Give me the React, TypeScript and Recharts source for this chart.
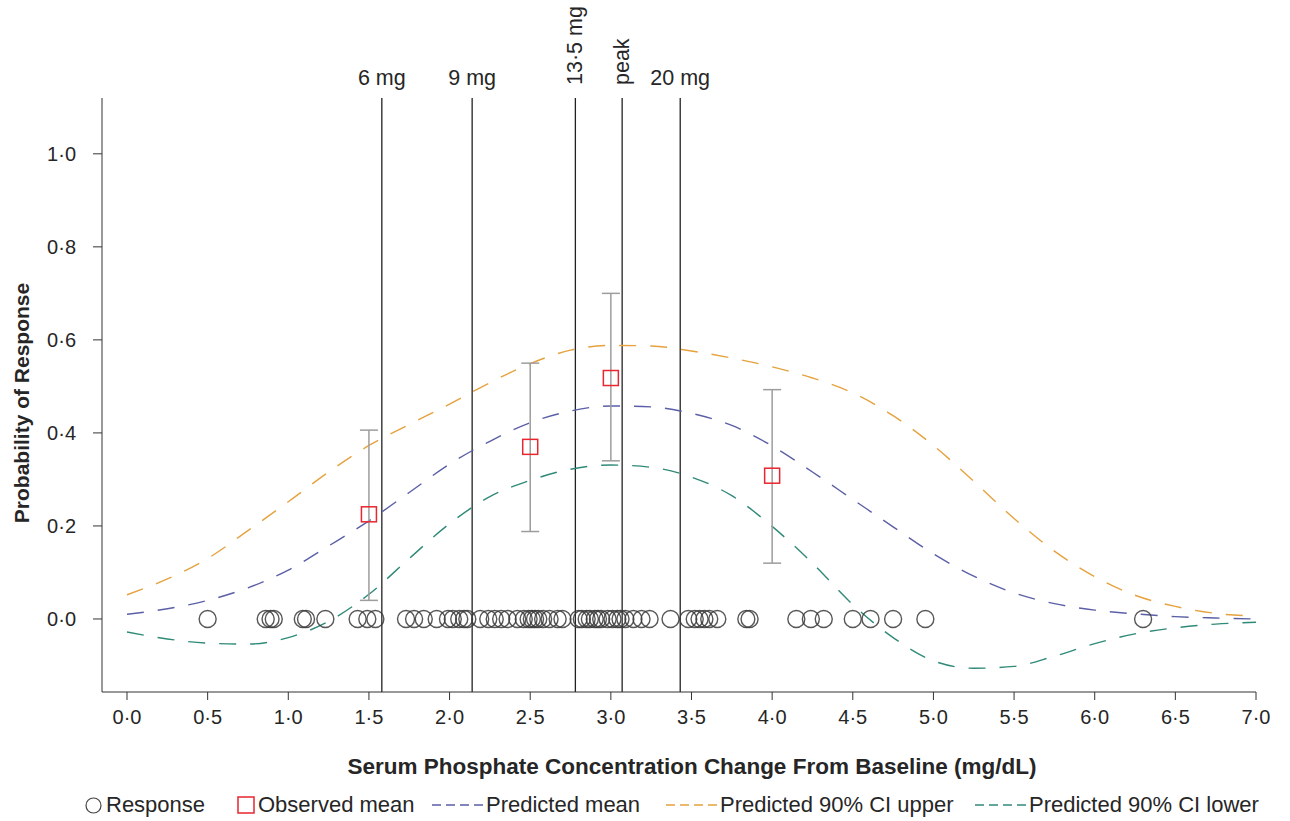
import {
  ComposedChart, Line, Scatter, XAxis, YAxis, ReferenceLine, ErrorBar,
} from "recharts";

// model curves (at 0.25 mg/dL steps)
const curveX = [
  0, 0.25, 0.5, 0.75, 1, 1.25, 1.5, 1.75, 2, 2.25, 2.5, 2.75, 3, 3.25, 3.5,
  3.75, 4, 4.25, 4.5, 4.75, 5, 5.25, 5.5, 5.75, 6, 6.25, 6.5, 6.75, 7,
];
const predMean = [
  0.010, 0.022, 0.040, 0.067, 0.105, 0.157, 0.211, 0.272, 0.333, 0.382, 0.422,
  0.447, 0.458, 0.456, 0.442, 0.416, 0.372, 0.316, 0.257, 0.198, 0.140, 0.092,
  0.056, 0.033, 0.019, 0.011, 0.005, 0.002, 0.000,
];
const ciUpper = [
  0.052, 0.086, 0.130, 0.190, 0.252, 0.316, 0.373, 0.418, 0.462, 0.508, 0.549,
  0.578, 0.588, 0.587, 0.576, 0.561, 0.542, 0.518, 0.486, 0.437, 0.373, 0.296,
  0.216, 0.146, 0.091, 0.051, 0.027, 0.012, 0.006,
];
const ciLower = [
  -0.028, -0.043, -0.052, -0.054, -0.040, -0.005, 0.053, 0.130, 0.205, 0.263,
  0.298, 0.322, 0.331, 0.326, 0.305, 0.265, 0.199, 0.120, 0.031, -0.040,
  -0.090, -0.106, -0.102, -0.080, -0.053, -0.032, -0.019, -0.011, -0.007,
];

// individual responses (all at 0)
const responseX = [
  0.50, 0.86, 0.89, 0.91, 1.09, 1.11, 1.23, 1.43, 1.49, 1.54, 1.73, 1.78, 1.84,
  1.92, 1.99, 2.02, 2.06, 2.09, 2.11, 2.19, 2.24, 2.28, 2.32, 2.36, 2.42, 2.46,
  2.49, 2.51, 2.53, 2.55, 2.58, 2.62, 2.67, 2.70, 2.80, 2.82, 2.85, 2.87, 2.90,
  2.92, 2.94, 2.98, 3.01, 3.04, 3.06, 3.09, 3.14, 3.19, 3.24, 3.37, 3.48, 3.52,
  3.55, 3.58, 3.61, 3.66, 3.84, 3.86, 4.15, 4.24, 4.32, 4.50, 4.61, 4.75, 4.95,
  6.30,
];

// observed means with 90% CI
const obsX = [1.5, 2.5, 3.0, 4.0];
const obsMean = [0.225, 0.37, 0.518, 0.308];
const obsLow = [0.04, 0.188, 0.34, 0.12];
const obsHigh = [0.406, 0.55, 0.70, 0.493];

// dose reference lines
const doseX = [1.58, 2.14, 2.78, 3.07, 3.43];
const doseLabels = ["6 mg", "9 mg", "13·5 mg", "peak", "20 mg"];
const doseVertical = [false, false, true, true, false];

const xTicks = [0, 0.5, 1, 1.5, 2, 2.5, 3, 3.5, 4, 4.5, 5, 5.5, 6, 6.5, 7];
const yTicks = [0, 0.2, 0.4, 0.6, 0.8, 1.0];

const FONT = "'Liberation Sans', Arial, sans-serif";
const TEXT = "#262626";
const AXIS = "#333";
const C_MEAN = "#5b5fa6";
const C_UP = "#e5a23e";
const C_LOW = "#2f8a78";
const C_RED = "#e8262f";
const DASH = "17 14";

const fmt = (v: number) => v.toFixed(1).replace(".", "·");

const curveData = curveX.map((x, i) => ({
  x, mean: predMean[i], upper: ciUpper[i], lower: ciLower[i],
}));
const responseData = responseX.map(x => ({ x, y: 0 }));
const obsData = obsX.map((x, i) => ({
  x, y: obsMean[i], err: [obsMean[i] - obsLow[i], obsHigh[i] - obsMean[i]],
}));

const DoseLabel = (props: any) => {
  const { viewBox, text, vertical } = props;
  if (!viewBox) return null;
  const x = viewBox.x;
  const top = viewBox.y;
  if (vertical) {
    return (
      <text transform={`translate(${x + 7},${top - 13}) rotate(-90)`} textAnchor="start"
        fontFamily={FONT} fontSize={21.5} fill={TEXT}>{text}</text>
    );
  }
  return (
    <text x={x} y={top - 13} textAnchor="middle" fontFamily={FONT} fontSize={21.5} fill={TEXT}>{text}</text>
  );
};

const YTitle = (props: any) => {
  const { viewBox } = props;
  if (!viewBox) return null;
  const cy = viewBox.y + viewBox.height / 2 + 8;
  return (
    <text transform={`translate(29,${cy}) rotate(-90)`} textAnchor="middle"
      fontFamily={FONT} fontSize={21} fontWeight="bold" fill={TEXT}>Probability of Response</text>
  );
};

const XTitle = (props: any) => {
  const { viewBox } = props;
  if (!viewBox) return null;
  return (
    <text x={viewBox.x + viewBox.width / 2 + 13} y={774} textAnchor="middle"
      fontFamily={FONT} fontSize={22.5} fontWeight="bold" fill={TEXT}>
      Serum Phosphate Concentration Change From Baseline (mg/dL)
    </text>
  );
};

const OpenCircle = (props: any) => (
  <circle cx={props.cx} cy={props.cy} r={8.5} fill="none" stroke="#3a3a3a" strokeOpacity={0.85} strokeWidth={1.4} />
);

const RedSquare = (props: any) => (
  <rect x={props.cx - 7.5} y={props.cy - 7.5} width={15} height={15} fill="none" stroke={C_RED} strokeWidth={1.5} />
);

const DashIcon = ({ color }: { color: string }) => (
  <svg width={52} height={10} style={{ marginRight: 2 }}>
    <line x1={0} y1={5} x2={52} y2={5} stroke={color} strokeWidth={1.5} strokeDasharray="9 5" />
  </svg>
);

const legendLeft = [85, 237, 432, 666, 975];
const legendItems = [
  { icon: <svg width={17} height={17} style={{ marginRight: 4 }}><circle cx={8.5} cy={8.5} r={7.5} fill="none" stroke="#444" strokeWidth={1.2} /></svg>, label: "Response" },
  { icon: <svg width={18} height={18} style={{ marginRight: 3 }}><rect x={1} y={1} width={16} height={16} fill="none" stroke={C_RED} strokeWidth={1.5} /></svg>, label: "Observed mean" },
  { icon: <DashIcon color={C_MEAN} />, label: "Predicted mean" },
  { icon: <DashIcon color={C_UP} />, label: "Predicted 90% CI upper" },
  { icon: <DashIcon color={C_LOW} />, label: "Predicted 90% CI lower" },
];

export default function App() {
  return (
    <div style={{ position: "absolute", left: 0, top: 0, width: 1290, height: 821, background: "#fff" }}>
      <ComposedChart width={1290} height={821} data={curveData}
        margin={{ top: 98, right: 34, bottom: 0, left: 0 }}>
        <XAxis dataKey="x" type="number" domain={[-0.155, 7]} ticks={xTicks} allowDataOverflow
          tickFormatter={fmt} height={129} stroke={AXIS} tickSize={8} tickMargin={10}
          tick={{ fill: TEXT, fontSize: 20, fontFamily: FONT }} label={<XTitle />} />
        <YAxis type="number" domain={[-0.157, 1.12]} ticks={yTicks} allowDataOverflow
          tickFormatter={fmt} width={102} stroke={AXIS} tickSize={9} tickMargin={17}
          tick={{ fill: TEXT, fontSize: 20, fontFamily: FONT }} label={<YTitle />} />
        {doseX.map((x, i) => (
          <ReferenceLine key={i} x={x} stroke="#222" strokeWidth={1.3}
            label={<DoseLabel text={doseLabels[i]} vertical={doseVertical[i]} />} />
        ))}
        <Line type="monotone" dataKey="upper" stroke={C_UP} strokeWidth={1.4} strokeDasharray={DASH} dot={false} isAnimationActive={false} />
        <Line type="monotone" dataKey="mean" stroke={C_MEAN} strokeWidth={1.4} strokeDasharray={DASH} dot={false} isAnimationActive={false} />
        <Line type="monotone" dataKey="lower" stroke={C_LOW} strokeWidth={1.4} strokeDasharray={DASH} dot={false} isAnimationActive={false} />
        <Scatter data={responseData} dataKey="y" shape={<OpenCircle />} isAnimationActive={false} />
        <Scatter data={obsData} dataKey="y" shape={<RedSquare />} isAnimationActive={false}>
          <ErrorBar dataKey="err" direction="y" width={9} stroke="#9d9d9d" strokeWidth={1.5} />
        </Scatter>
      </ComposedChart>
      {legendItems.map((item, i) => (
        <div key={item.label} style={{
          position: "absolute", left: legendLeft[i], top: 792, display: "flex", alignItems: "center",
          fontFamily: FONT, fontSize: 22, color: TEXT, whiteSpace: "nowrap",
        }}>
          {item.icon}
          <span>{item.label}</span>
        </div>
      ))}
    </div>
  );
}
